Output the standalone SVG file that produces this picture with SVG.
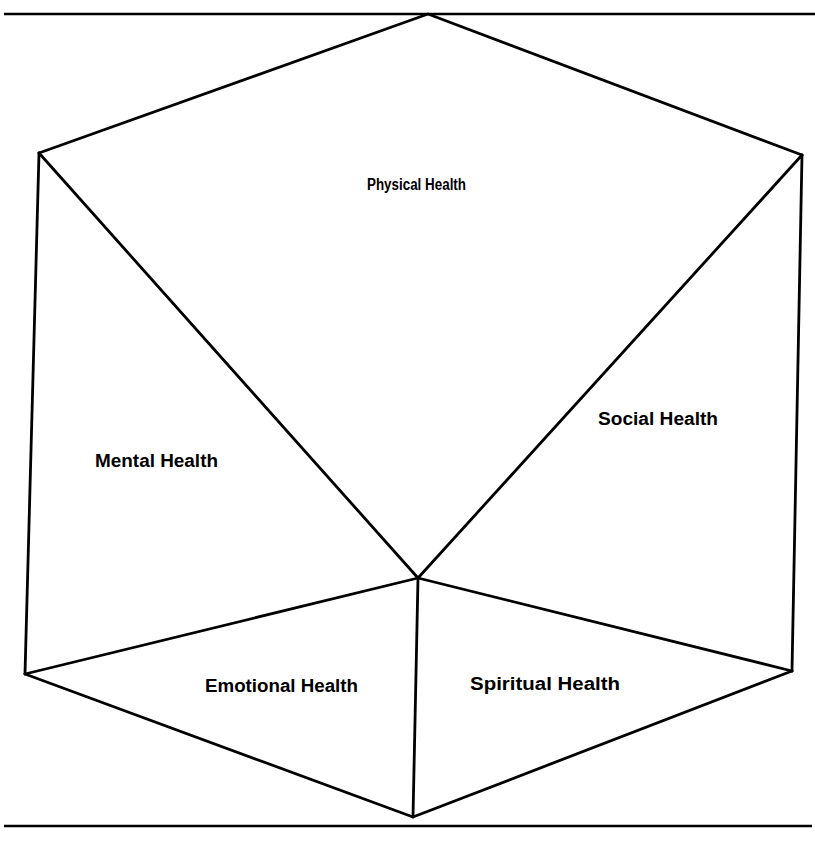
<svg xmlns="http://www.w3.org/2000/svg" width="815" height="849" viewBox="0 0 815 849">
<style>
.ln{stroke:#000;stroke-width:2.8;fill:none;stroke-linecap:round;stroke-linejoin:round}
.rule{stroke:#000;stroke-width:2.4;fill:none}
.lb{font-family:"Liberation Sans",Arial,sans-serif;font-weight:bold;fill:#000}
</style>
<rect width="815" height="849" fill="#fff"/>
<g id="rules">
<line class="rule" x1="4" y1="14" x2="815" y2="14"/>
<line class="rule" x1="4" y1="826" x2="812" y2="826"/>
</g>
<g id="connectors">
<polyline class="ln" points="39,153 428,14 802,155"/>
<line class="ln" x1="39" y1="153" x2="418" y2="578"/>
<line class="ln" x1="802" y1="155" x2="418" y2="578"/>
<line class="ln" x1="39" y1="153" x2="25" y2="674"/>
<line class="ln" x1="802" y1="155" x2="792" y2="671"/>
<line class="ln" x1="25" y1="674" x2="418" y2="578"/>
<line class="ln" x1="792" y1="671" x2="418" y2="578"/>
<line class="ln" x1="418" y1="578" x2="413" y2="817"/>
<polyline class="ln" points="25,674 413,817 792,671"/>
</g>
<g id="physical"><text class="lb" x="367" y="190" font-size="16" textLength="99" lengthAdjust="spacingAndGlyphs">Physical Health</text></g>
<g id="mental"><text class="lb" x="95" y="467" font-size="18" textLength="123" lengthAdjust="spacingAndGlyphs">Mental Health</text></g>
<g id="social"><text class="lb" x="598" y="425" font-size="18" textLength="120" lengthAdjust="spacingAndGlyphs">Social Health</text></g>
<g id="emotional"><text class="lb" x="205" y="692" font-size="18" textLength="153" lengthAdjust="spacingAndGlyphs">Emotional Health</text></g>
<g id="spiritual"><text class="lb" x="470" y="690" font-size="18" textLength="150" lengthAdjust="spacingAndGlyphs">Spiritual Health</text></g>
</svg>
